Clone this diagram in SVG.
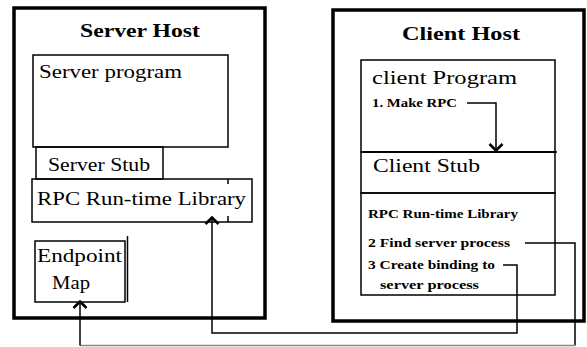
<svg xmlns="http://www.w3.org/2000/svg" width="587" height="347" viewBox="0 0 587 347">
<style>
  .host{fill:#fff;stroke:#000;stroke-width:3.5}
  .box{fill:none;stroke:#000;stroke-width:1.5}
  .ln{fill:none;stroke:#000;stroke-width:1.5}
  .title{font-family:"Liberation Serif",serif;font-weight:bold;font-size:19px;fill:#000}
  .lbl{font-family:"Liberation Serif",serif;font-size:19px;fill:#000}
  .sm{font-family:"Liberation Serif",serif;font-size:12px;font-weight:bold;fill:#000}
  .conn{fill:none;stroke:#000;stroke-width:1.5}
</style>
<defs>
  <marker id="ah" viewBox="0 0 10 16" refX="9" refY="8" markerWidth="10" markerHeight="16" markerUnits="userSpaceOnUse" orient="auto">
    <path d="M2,1.5 L8.5,8 L2,14.5" fill="none" stroke="#000" stroke-width="2.6"/>
  </marker>
</defs>
<rect width="587" height="347" fill="#fff"/>

<g id="server-host">
  <rect class="host" x="14" y="8" width="251" height="310"/>
  <text class="title" x="140" y="37" text-anchor="middle" textLength="120" lengthAdjust="spacingAndGlyphs">Server Host</text>
</g>
<g id="server-program">
  <rect class="box" x="33" y="55" width="195" height="92"/>
  <text class="lbl" x="39" y="78" textLength="143" lengthAdjust="spacingAndGlyphs">Server program</text>
</g>
<g id="server-stub">
  <rect class="box" x="36" y="147" width="127" height="32"/>
  <text class="lbl" x="48" y="171" textLength="102" lengthAdjust="spacingAndGlyphs">Server Stub</text>
</g>
<g id="server-rpc-library">
  <rect class="box" x="32" y="179" width="220" height="43"/>
  <path class="ln" d="M228,179 V184 M228,216 V222"/>
  <text class="lbl" x="37" y="205" textLength="209" lengthAdjust="spacingAndGlyphs">RPC Run-time Library</text>
</g>
<g id="endpoint-map">
  <rect class="box" x="35" y="241" width="90" height="61"/>
  <path class="ln" d="M127.5,236 V302"/>
  <text class="lbl" x="37" y="262" textLength="85" lengthAdjust="spacingAndGlyphs">Endpoint</text>
  <text class="lbl" x="52" y="289" textLength="38" lengthAdjust="spacingAndGlyphs">Map</text>
</g>

<g id="client-host">
  <rect class="host" x="333" y="10" width="251" height="311"/>
  <text class="title" x="461" y="40" text-anchor="middle" textLength="118" lengthAdjust="spacingAndGlyphs">Client Host</text>
</g>
<g id="client-program">
  <rect class="box" x="361" y="60" width="194" height="92"/>
  <text class="lbl" x="372" y="84" textLength="145" lengthAdjust="spacingAndGlyphs">client Program</text>
  <text class="sm" x="372" y="107" textLength="85" lengthAdjust="spacingAndGlyphs">1. Make RPC</text>
</g>
<g id="client-stub">
  <path class="ln" d="M361,152 H557"/>
  <rect class="box" x="361" y="152" width="194" height="41"/>
  <text class="lbl" x="373" y="172" textLength="107" lengthAdjust="spacingAndGlyphs">Client Stub</text>
</g>
<g id="client-rpc-library">
  <rect class="box" x="361" y="193" width="194" height="102"/>
  <text class="sm" x="368" y="218" textLength="150" lengthAdjust="spacingAndGlyphs">RPC Run-time Library</text>
  <text class="sm" x="368" y="247" textLength="142" lengthAdjust="spacingAndGlyphs">2 Find  server process</text>
  <text class="sm" x="368" y="269" textLength="127" lengthAdjust="spacingAndGlyphs">3 Create  binding to</text>
  <text class="sm" x="380" y="289" textLength="99" lengthAdjust="spacingAndGlyphs">server process</text>
</g>

<g id="connectors">
  <path class="conn" d="M467,103 H496 V151" marker-end="url(#ah)"/>
  <path class="conn" d="M503,265 H517 V333 H212 V217" marker-end="url(#ah)"/>
  <path class="conn" d="M525,243 H575 V345.5"/>
  <path d="M575,345.5 H80" fill="none" stroke="#888" stroke-width="1.5"/>
  <path class="conn" d="M80,345.5 V301" marker-end="url(#ah)"/>
</g>
</svg>
